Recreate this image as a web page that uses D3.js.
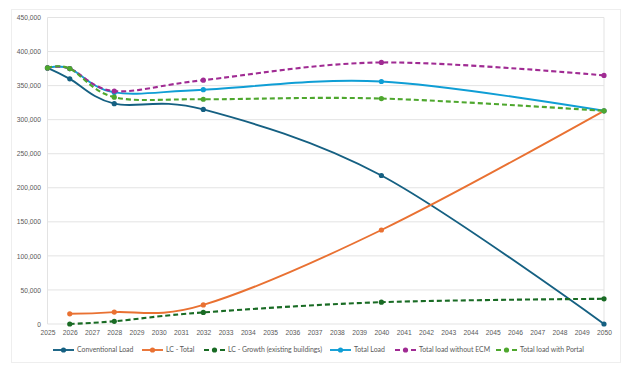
<!DOCTYPE html>
<meta charset="utf-8">
<head>
  <title>Load forecast</title>
  <style>
    body { margin: 0; background: #fff; font-family: Lato, "Open Sans", sans-serif; }
    .tick-label { font-size: 6.7px; fill: #595959; }
    .legend text { font-size: 6.9px; fill: #595959; }
  </style>
  <script src="https://d3js.org/d3.v7.min.js"></script>
</head>
<body>
  <svg id="chart" width="629" height="372"></svg>
  <script>
// data
var years = d3.range(2025, 2051);
var yTicks = [0, 50000, 100000, 150000, 200000, 250000, 300000, 350000, 400000, 450000];

var convYears = [2025, 2026, 2028, 2032, 2040, 2050];
var convLoad = [376000, 360000, 323500, 315000, 218000, 0];

var lcYears = [2026, 2028, 2032, 2040, 2050];
var lcTotal = [15000, 17500, 28000, 138000, 313000];
var lcGrowth = [0, 4000, 17000, 32000, 37000];

var totalYears = [2025, 2026, 2028, 2032, 2040, 2050];
var totalLoad = [376000, 375000, 340000, 344000, 356000, 313000];
var noEcmLoad = [376000, 375000, 342000, 358000, 384000, 365000];
var portalLoad = [376000, 375000, 333000, 330000, 331000, 313000];

var series = [
  { name: "Conventional Load", x: convYears, y: convLoad, color: "#156082", dash: null },
  { name: "LC - Total", x: lcYears, y: lcTotal, color: "#E97132", dash: null },
  { name: "LC - Growth (existing buildings)", x: lcYears, y: lcGrowth, color: "#196B24", dash: "5,3" },
  { name: "Total Load", x: totalYears, y: totalLoad, color: "#0F9ED5", dash: null },
  { name: "Total load without ECM", x: totalYears, y: noEcmLoad, color: "#A02B93", dash: "5,3" },
  { name: "Total load with Portal", x: totalYears, y: portalLoad, color: "#4EA72E", dash: "5,3" }
];

var svg = d3.select("#chart");

// chart frame
svg.append("rect")
  .attr("x", 11.5).attr("y", 9.5)
  .attr("width", 609).attr("height", 353)
  .attr("fill", "none")
  .attr("stroke", "#dcdcdc")
  .attr("stroke-dasharray", "1,1");

var x = d3.scaleLinear().domain([2025, 2050]).range([47.5, 604]);
var y = d3.scaleLinear().domain([0, 450000]).range([324, 17.5]);

// grid
svg.append("g")
  .selectAll("line")
  .data(yTicks)
  .enter().append("line")
  .attr("x1", x(2025)).attr("x2", x(2050))
  .attr("y1", function(d) { return y(d); })
  .attr("y2", function(d) { return y(d); })
  .attr("stroke", "#e3e3e3")
  .attr("stroke-width", 1);

svg.append("g")
  .selectAll("line")
  .data([2025, 2050])
  .enter().append("line")
  .attr("x1", function(d) { return x(d); })
  .attr("x2", function(d) { return x(d); })
  .attr("y1", y(450000)).attr("y2", y(0))
  .attr("stroke", "#e3e3e3");

// axes (labels only, Excel style)
var yAxis = d3.axisLeft(y).tickValues(yTicks).tickSize(0).tickPadding(6.5)
  .tickFormat(d3.format(","));
var gy = svg.append("g").attr("transform", "translate(" + x(2025) + ",0)").call(yAxis);
gy.select(".domain").remove();
gy.selectAll("text").attr("class", "tick-label").attr("font-size", null).attr("font-family", null);

var xAxis = d3.axisBottom(x).tickValues(years).tickSize(0).tickPadding(6.5)
  .tickFormat(d3.format("d"));
var gx = svg.append("g").attr("transform", "translate(0," + y(0) + ")").call(xAxis);
gx.select(".domain").remove();
gx.selectAll("text").attr("class", "tick-label").attr("font-size", null).attr("font-family", null);

// lines
var line = d3.line()
  .x(function(d) { return x(d[0]); })
  .y(function(d) { return y(d[1]); })
  .curve(d3.curveCardinal.tension(0));

series.forEach(function(s) {
  var pts = s.x.map(function(v, i) { return [v, s.y[i]]; });
  var g = svg.append("g");
  g.append("path")
    .attr("d", line(pts))
    .attr("fill", "none")
    .attr("stroke", s.color)
    .attr("stroke-width", s.dash ? 2.1 : 1.9)
    .attr("stroke-dasharray", s.dash);
  g.selectAll("circle")
    .data(pts)
    .enter().append("circle")
    .attr("cx", function(d) { return x(d[0]); })
    .attr("cy", function(d) { return y(d[1]); })
    .attr("r", 2.6)
    .attr("fill", s.color);
});

// legend
var legendX = [53, 142, 204, 330, 395, 496];
var legend = svg.append("g").attr("class", "legend");
series.forEach(function(s, i) {
  var lg = legend.append("g").attr("transform", "translate(" + legendX[i] + ",350)");
  lg.append("line")
    .attr("x1", 0).attr("x2", 21)
    .attr("stroke", s.color)
    .attr("stroke-width", 1.9)
    .attr("stroke-dasharray", s.dash ? "5,3" : null);
  lg.append("circle").attr("cx", 10.5).attr("r", 2.6).attr("fill", s.color);
  lg.append("text")
    .attr("x", 24)
    .attr("dy", "0.35em")
    .text(s.name);
});
  </script>
</body>
</html>
